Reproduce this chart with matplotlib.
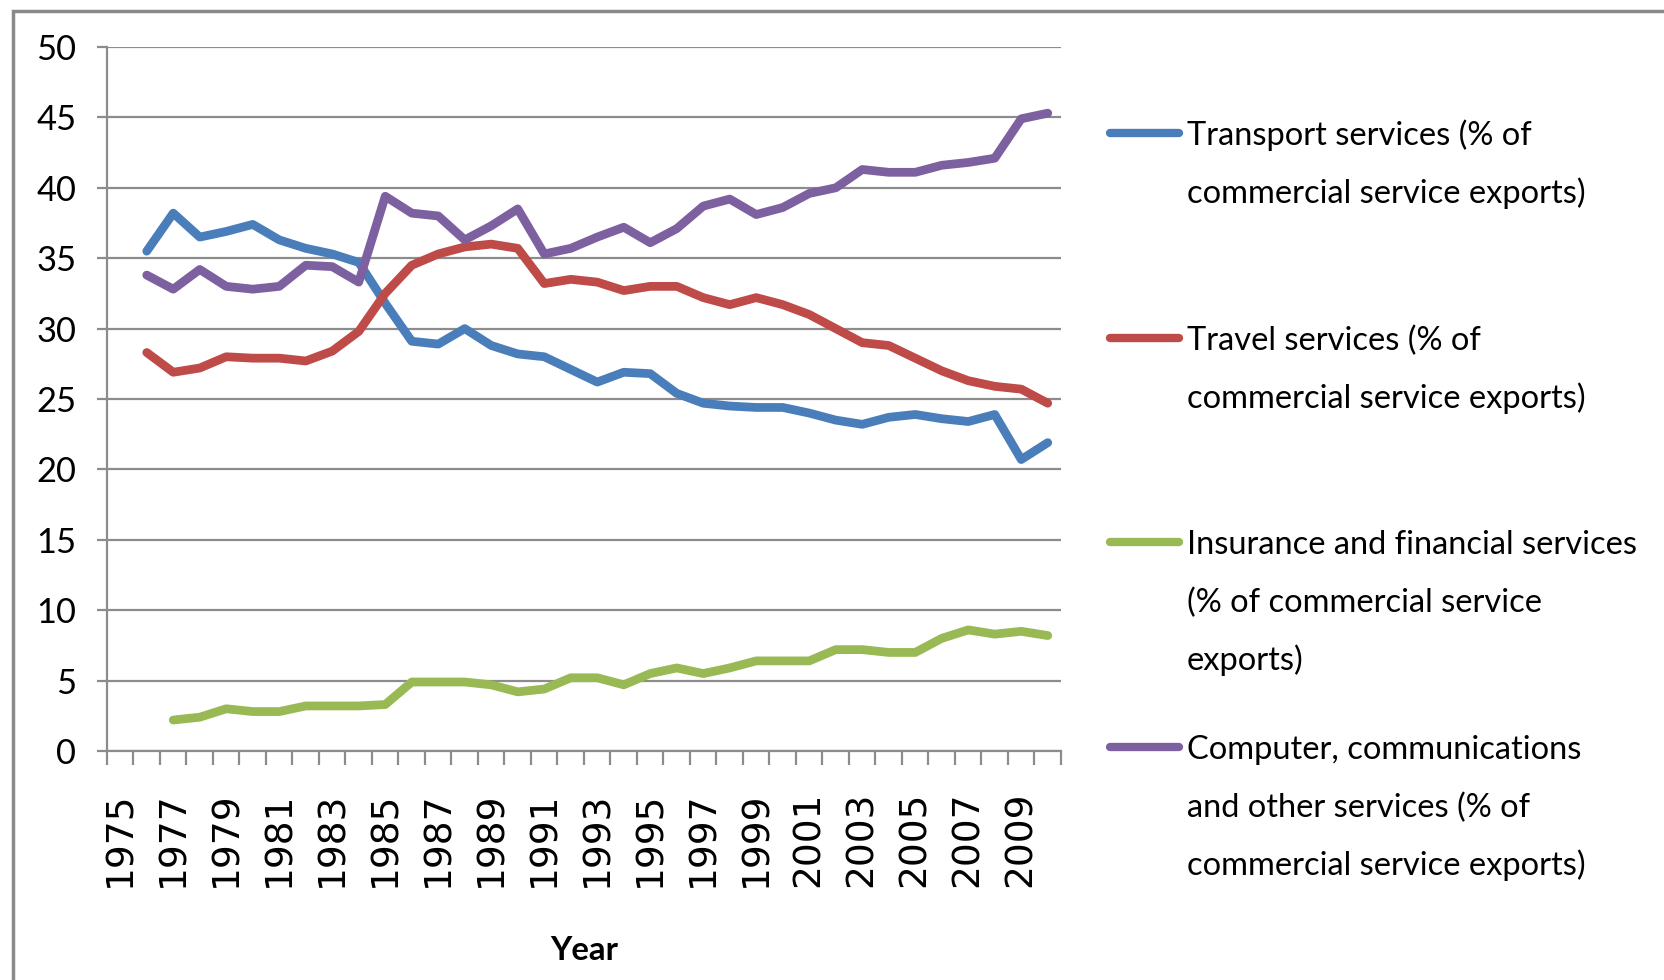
import numpy as np
import matplotlib.pyplot as plt
from matplotlib import font_manager
from matplotlib.lines import Line2D
from matplotlib.patches import Rectangle

nan = np.nan

# data (share of commercial service exports, %)
years = list(range(1975, 2011))
transport = [nan, 35.5, 38.2, 36.5, 36.9, 37.4, 36.3, 35.7, 35.3, 34.7, 31.8, 29.1, 28.9, 30.0,
             28.8, 28.2, 28.0, 27.1, 26.2, 26.9, 26.8, 25.4, 24.7, 24.5, 24.4, 24.4, 24.0, 23.5,
             23.2, 23.7, 23.9, 23.6, 23.4, 23.9, 20.7, 21.9]
travel = [nan, 28.3, 26.9, 27.2, 28.0, 27.9, 27.9, 27.7, 28.4, 29.8, 32.5, 34.5, 35.3, 35.8,
          36.0, 35.7, 33.2, 33.5, 33.3, 32.7, 33.0, 33.0, 32.2, 31.7, 32.2, 31.7, 31.0, 30.0,
          29.0, 28.8, 27.9, 27.0, 26.3, 25.9, 25.7, 24.7]
insurance = [nan, nan, 2.2, 2.4, 3.0, 2.8, 2.8, 3.2, 3.2, 3.2, 3.3, 4.9, 4.9, 4.9, 4.7, 4.2,
             4.4, 5.2, 5.2, 4.7, 5.5, 5.9, 5.5, 5.9, 6.4, 6.4, 6.4, 7.2, 7.2, 7.0, 7.0, 8.0,
             8.6, 8.3, 8.5, 8.2]
other = [nan, 33.8, 32.8, 34.2, 33.0, 32.8, 33.0, 34.5, 34.4, 33.3, 39.4, 38.2, 38.0, 36.3,
         37.3, 38.5, 35.3, 35.7, 36.5, 37.2, 36.1, 37.1, 38.7, 39.2, 38.1, 38.6, 39.6, 40.0,
         41.3, 41.1, 41.1, 41.6, 41.8, 42.1, 44.9, 45.3]

labels = [
    ["Transport services (% of", "commercial service exports)"],
    ["Travel services (% of", "commercial service exports)"],
    ["Insurance and financial services", "(% of commercial service", "exports)"],
    ["Computer, communications", "and other services (% of", "commercial service exports)"],
]
colors = ['#4a7ebb', '#be4b48', '#98b954', '#7d60a0']
series = [transport, travel, insurance, other]

# pick the narrowest installed sans font (the original uses a Calibri-like face)
installed = {f.name for f in font_manager.fontManager.ttflist}
narrow = next(n for n in ['Liberation Sans Narrow', 'DejaVu Sans Condensed', 'Lato',
                          'Roboto', 'DejaVu Sans'] if n in installed)

grey = '#8c8c8c'
W, H = 1665, 980

fig = plt.figure(figsize=(W / 100, H / 100), dpi=100)
renderer = fig.canvas.get_renderer()


def fit_size(text, target, bold=False):
    # font size that makes text about target pixels wide
    t = fig.text(0, 0, text, family=narrow, fontsize=20,
                 fontweight='bold' if bold else 'normal')
    w = t.get_window_extent(renderer).width
    t.remove()
    return 20 * target / w


ax = fig.add_axes([107 / W, 1 - 751 / H, (1061 - 107) / W, (751 - 47) / H])

x = np.arange(len(years))
for s, c in zip(series, colors):
    ax.plot(x, s, color=c, lw=6.3, solid_joinstyle='round', solid_capstyle='round')

ax.set_xlim(-0.5, len(years) - 0.5)
ax.set_ylim(0, 50)
ax.set_yticks(range(0, 51, 5))
ax.yaxis.grid(True, color=grey, lw=1.6)
ax.set_axisbelow(True)
for side in ['top', 'right']:
    ax.spines[side].set_visible(False)
for side in ['left', 'bottom']:
    ax.spines[side].set_color(grey)
    ax.spines[side].set_linewidth(1.6)

# category axis: labels on odd years, tick marks between categories
ax.set_xticks(x[::2])
ax.set_xticklabels([str(y) for y in years[::2]], rotation=90, fontsize=27, family='DejaVu Sans')
ax.set_xticks(np.arange(-0.5, len(years), 1), minor=True)
ax.tick_params(axis='x', which='major', length=0, pad=29)
ax.tick_params(axis='x', which='minor', length=10, width=1.6, color=grey, direction='out')
ax.tick_params(axis='y', length=7, width=1.6, color=grey, pad=15)
ysize = fit_size('50', 40)
for t in ax.get_yticklabels():
    t.set_family(narrow)
    t.set_fontsize(ysize)

ax.set_xlabel('Year', family=narrow, fontsize=fit_size('Year', 68, bold=True),
              fontweight='bold', labelpad=35)

# outer chart border
fig.add_artist(Rectangle((13 / W, -0.1), 1.2, 1.1 - 11 / H, transform=fig.transFigure,
                         fill=False, edgecolor='#8a8a8a', lw=2.5))

# legend on the right, handle beside first line of each entry
lsize = fit_size('Insurance and financial services', 452)
first = [133, 338, 542, 747]
for lab, c, y0 in zip(labels, colors, first):
    fig.add_artist(Line2D([1110 / W, 1179 / W], [1 - y0 / H] * 2, transform=fig.transFigure,
                          color=c, lw=6.0, solid_capstyle='round'))
    for i, line in enumerate(lab):
        yy = y0 + i * 58 + 12
        fig.text(1187 / W, 1 - yy / H, line, family=narrow, fontsize=lsize,
                 va='baseline', ha='left')

fig.savefig('out.png', dpi=100)
